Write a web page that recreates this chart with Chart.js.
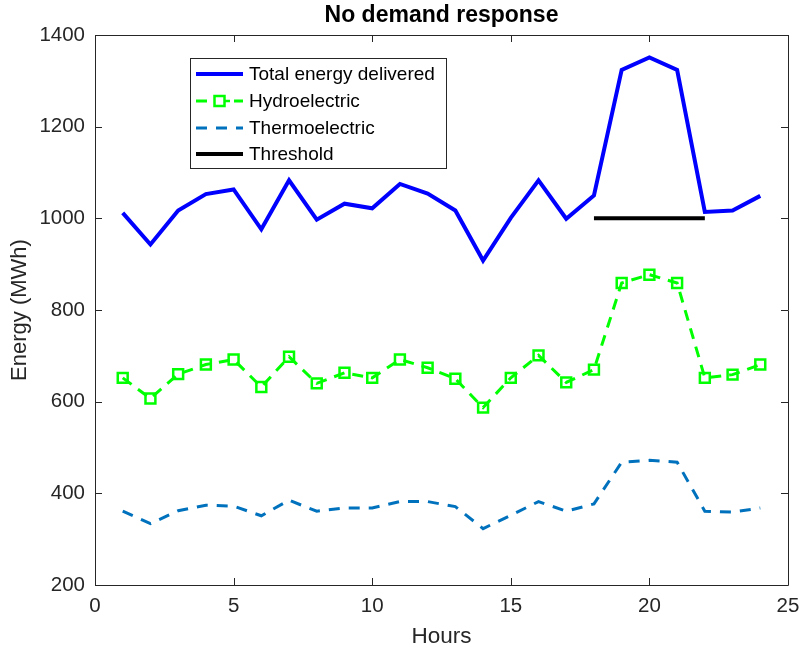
<!DOCTYPE html>
<html>
<head>
<meta charset="utf-8">
<script src="https://cdn.jsdelivr.net/npm/chart.js@4.4.1/dist/chart.umd.min.js"></script>
<style>
  body { margin: 0; background: #fff; }
  #wrap { width: 800px; height: 654px; }
</style>
</head>
<body>
<div id="wrap"><canvas id="energyChart" width="800" height="654"></canvas></div>
<script>
// Data
const hours = [1, 2, 3, 4, 5, 6, 7, 8, 9, 10, 11, 12, 13, 14, 15, 16, 17, 18, 19, 20, 21, 22, 23, 24];
const totalEnergy = [1012, 943, 1017, 1053, 1063, 976, 1083, 997, 1032, 1022, 1075, 1054, 1017, 908, 1001, 1083, 999, 1050, 1324, 1351, 1324, 1014, 1017, 1049];
const hydroelectric = [652, 607, 660, 681, 692, 632, 698, 640, 663, 652, 692, 674, 650, 587, 652, 701, 642, 670, 859, 877, 859, 652, 659, 681];
const thermoelectric = [361, 334, 362, 374, 372, 351, 385, 361, 368, 368, 382, 382, 371, 323, 352, 382, 361, 377, 468, 472, 468, 361, 359, 368];
const thresholdHours = [18, 22];
const thresholdValues = [1000, 1000];
const xTicks = [0, 5, 10, 15, 20, 25];
const yTicks = [200, 400, 600, 800, 1000, 1200, 1400];

const FONT = '"Liberation Sans", Arial, Helvetica, sans-serif';
const AXIS_COLOR = '#262626';

function toPoints(xs, ys) {
    return xs.map((x, i) => ({ x: x, y: ys[i] }));
}

// MATLAB style box, inward ticks and the legend inside the axes
const matlabAxes = {
    id: 'matlabAxes',
    afterDatasetsDraw(chart) {
        const ctx = chart.ctx;
        const area = chart.chartArea;
        const xs = chart.scales.x;
        const ys = chart.scales.y;
        const tl = 7;
        ctx.save();
        ctx.strokeStyle = AXIS_COLOR;
        ctx.lineWidth = 1;
        ctx.beginPath();
        ctx.rect(Math.round(area.left) + 0.5, Math.round(area.top) + 0.5,
                 Math.round(area.right - area.left), Math.round(area.bottom - area.top));
        ctx.stroke();
        ctx.beginPath();
        xTicks.forEach(v => {
            const px = Math.round(xs.getPixelForValue(v)) + 0.5;
            ctx.moveTo(px, area.bottom); ctx.lineTo(px, area.bottom - tl);
            ctx.moveTo(px, area.top); ctx.lineTo(px, area.top + tl);
        });
        yTicks.forEach(v => {
            const py = Math.round(ys.getPixelForValue(v)) + 0.5;
            ctx.moveTo(area.left, py); ctx.lineTo(area.left + tl, py);
            ctx.moveTo(area.right, py); ctx.lineTo(area.right - tl, py);
        });
        ctx.stroke();

        // legend
        const box = { left: 190.5, top: 58.5, width: 256, height: 110 };
        ctx.fillStyle = '#fff';
        ctx.fillRect(box.left, box.top, box.width, box.height);
        ctx.strokeStyle = AXIS_COLOR;
        ctx.lineWidth = 1;
        ctx.strokeRect(box.left, box.top, box.width, box.height);
        const rows = [74, 101, 128, 154];
        ctx.font = '19px ' + FONT;
        ctx.textBaseline = 'middle';
        ctx.textAlign = 'left';
        chart.data.datasets.forEach((ds, i) => {
            const y = rows[i];
            ctx.save();
            ctx.strokeStyle = ds.borderColor;
            ctx.lineWidth = ds.borderWidth;
            ctx.setLineDash(ds.borderDash || []);
            ctx.beginPath();
            ctx.moveTo(196, y);
            ctx.lineTo(243, y);
            ctx.stroke();
            ctx.restore();
            if (ds.pointRadius > 0) {
                ctx.save();
                ctx.fillStyle = '#fff';
                ctx.fillRect(212, y - 6, 15, 12);
                ctx.strokeStyle = ds.borderColor;
                ctx.lineWidth = ds.pointBorderWidth;
                ctx.strokeRect(214.5, y - 5, 10, 10);
                ctx.beginPath();
                ctx.moveTo(224.5, y); ctx.lineTo(230, y);
                ctx.stroke();
                ctx.restore();
            }
            ctx.fillStyle = '#000';
            ctx.fillText(ds.label, 249, y + 1);
        });
        ctx.restore();
    }
};

const ctx = document.getElementById('energyChart');
const energyChart = new Chart(ctx, {
    type: 'line',
    data: {
        datasets: [
            {
                label: 'Total energy delivered',
                data: toPoints(hours, totalEnergy),
                borderColor: '#0000ff',
                borderWidth: 4,
                pointRadius: 0,
                fill: false
            },
            {
                label: 'Hydroelectric',
                data: toPoints(hours, hydroelectric),
                borderColor: '#00ff00',
                borderWidth: 3,
                borderDash: [11, 8],
                pointStyle: 'rect',
                pointRadius: 7,
                pointBorderWidth: 2.5,
                pointBorderColor: '#00ff00',
                pointBackgroundColor: 'rgba(0,0,0,0)',
                fill: false
            },
            {
                label: 'Thermoelectric',
                data: toPoints(hours, thermoelectric),
                borderColor: '#0072bd',
                borderWidth: 3,
                borderDash: [11, 9],
                pointRadius: 0,
                fill: false
            },
            {
                label: 'Threshold',
                data: toPoints(thresholdHours, thresholdValues),
                borderColor: '#000000',
                borderWidth: 4,
                pointRadius: 0,
                fill: false
            }
        ]
    },
    options: {
        responsive: false,
        animation: false,
        layout: { padding: { left: 0, right: 12, top: 0, bottom: 0 } },
        plugins: {
            legend: { display: false },
            tooltip: { enabled: false },
            title: {
                display: true,
                text: 'No demand response',
                fullSize: false,
                color: '#000',
                font: { family: FONT, size: 23, weight: 'bold' },
                padding: { top: 2.2, bottom: 5.2 }
            }
        },
        scales: {
            x: {
                type: 'linear',
                min: 0,
                max: 25,
                afterFit: s => { s.height = 69; s.paddingRight = 0; s.paddingLeft = 0; },
                afterBuildTicks: s => { s.ticks = xTicks.map(v => ({ value: v })); },
                grid: { display: false, drawTicks: false },
                border: { display: false },
                ticks: {
                    color: AXIS_COLOR, padding: 9, font: { family: FONT, size: 20.5 },
                    callback: v => String(v)
                },
                title: {
                    display: true,
                    text: 'Hours',
                    color: AXIS_COLOR,
                    font: { family: FONT, size: 22.5 },
                    padding: { top: 2, bottom: 3.5 }
                }
            },
            y: {
                type: 'linear',
                min: 200,
                max: 1400,
                afterFit: s => { s.width = 95; s.paddingTop = 0; s.paddingBottom = 0; },
                afterBuildTicks: s => { s.ticks = yTicks.map(v => ({ value: v })); },
                grid: { display: false, drawTicks: false },
                border: { display: false },
                ticks: {
                    color: AXIS_COLOR, padding: 10, font: { family: FONT, size: 20.5 },
                    callback: v => String(v)
                },
                title: {
                    display: true,
                    text: 'Energy (MWh)',
                    color: AXIS_COLOR,
                    font: { family: FONT, size: 22 },
                    padding: { top: 7, bottom: 2 }
                }
            }
        }
    },
    plugins: [matlabAxes]
});
</script>
</body>
</html>
